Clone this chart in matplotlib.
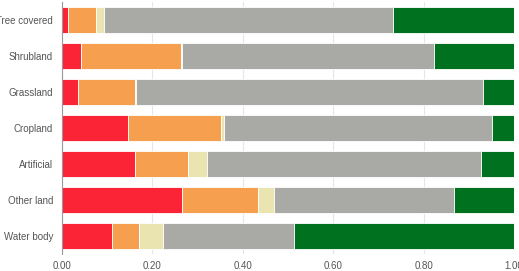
import numpy as np
import matplotlib
matplotlib.use('Agg')
import matplotlib.pyplot as plt

plt.rcParams['font.family'] = ['Liberation Sans', 'DejaVu Sans']

categories = ['Tree covered', 'Shrubland', 'Grassland', 'Cropland',
              'Artificial', 'Other land', 'Water body']

# segment shares
red = [0.013, 0.042, 0.035, 0.147, 0.162, 0.265, 0.111]
orange = [0.062, 0.221, 0.127, 0.204, 0.117, 0.168, 0.059]
yellow = [0.018, 0.002, 0.002, 0.007, 0.041, 0.035, 0.054]
gray = [0.640, 0.559, 0.767, 0.593, 0.606, 0.399, 0.289]
green = [0.267, 0.176, 0.069, 0.049, 0.074, 0.133, 0.487]

series = [red, orange, yellow, gray, green]
colors = ['#FB2336', '#F6A04F', '#E9E4B0', '#A9AAA5', '#00711E']

fig = plt.figure(figsize=(5.19, 2.71), dpi=100)
ax = fig.add_axes([62 / 519, 17 / 271, 452 / 519, 252 / 271])

y = np.arange(len(categories))
left = np.zeros(len(categories))
for vals, c in zip(series, colors):
    ax.barh(y, vals, left=left, height=0.72, color=c,
            edgecolor='white', linewidth=0.6, zorder=2)
    left += np.array(vals)

ax.set_xlim(0, 1)
ax.set_ylim(len(categories) - 0.5, -0.5)
ax.set_yticks(y)
ax.set_yticklabels(categories)
ax.set_xticks(np.arange(0, 1.01, 0.2))
ax.set_xticklabels([f'{v:.2f}' for v in np.arange(0, 1.01, 0.2)])
ax.tick_params(axis='y', length=0, labelsize=7, colors='#555555', pad=6.5)
ax.tick_params(axis='x', length=0, labelsize=7, colors='#555555', pad=5)
ax.grid(axis='x', color='#e6e6e6', linewidth=0.8, zorder=0)
for s in ['top', 'right', 'bottom']:
    ax.spines[s].set_visible(False)
ax.spines['left'].set_color('#999999')
ax.spines['left'].set_zorder(3)

fig.savefig('out.png', dpi=100)
